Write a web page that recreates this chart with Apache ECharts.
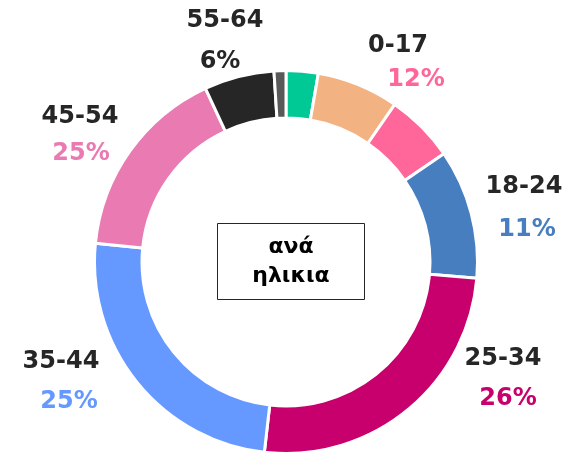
<!DOCTYPE html>
<html lang="el">
<head>
    <meta charset="UTF-8">
    <title>ανά ηλικια</title>
    <script src="https://cdn.jsdelivr.net/npm/echarts@6/dist/echarts.min.js"></script>
    <style>
        html, body { margin: 0; padding: 0; background: #fff; }
        #chart { width: 588px; height: 453px; }
    </style>
</head>
<body>
    <div id="chart"></div>
    <script>
        // slices, clockwise from the top
        var sliceNames  = ['0-17 (a)', '0-17 (b)', '0-17 (c)', '18-24', '25-34', '35-44', '45-54', '55-64', 'λοιπά'];
        var sliceValues = [2.7, 6.9, 5.8, 10.9, 25.4, 24.7, 16.5, 5.9, 1.0];
        var sliceColors = ['#00C996', '#F3B282', '#FF6699', '#467EC0', '#C8006E', '#6699FF', '#E97AB2', '#262626', '#595959'];

        // labels printed round the ring
        var groupNames  = ['0-17', '18-24', '25-34', '35-44', '45-54', '55-64'];
        var groupShares = ['12%', '11%', '26%', '25%', '25%', '6%'];
        var shareColors = ['#FF6699', '#467EC0', '#C8006E', '#6699FF', '#E97AB2', '#262626'];
        var namePos  = [[398, 46], [524, 187], [503, 359], [61, 362], [80, 117], [225, 21]];
        var sharePos = [[416, 80], [527, 230], [508, 399], [69, 402], [81, 154], [220, 62]];

        var chart = echarts.init(document.getElementById('chart'));

        var font = 'bold 24px "DejaVu Sans", Verdana, sans-serif';
        var texts = [];
        groupNames.forEach(function (g, i) {
            texts.push({
                type: 'text', x: namePos[i][0], y: namePos[i][1],
                style: { text: g, font: font, fill: '#262626', align: 'center', verticalAlign: 'middle' }
            });
            texts.push({
                type: 'text', x: sharePos[i][0], y: sharePos[i][1],
                style: { text: groupShares[i], font: font, fill: shareColors[i], align: 'center', verticalAlign: 'middle' }
            });
        });

        // box in the middle
        texts.push({
            type: 'rect',
            shape: { x: 217.5, y: 223.5, width: 147, height: 76 },
            style: { fill: '#fff', stroke: '#262626', lineWidth: 1 }
        });
        texts.push({
            type: 'text', x: 291, y: 262,
            style: {
                text: 'ανά\nηλικια', font: 'bold 22px "DejaVu Sans", Verdana, sans-serif',
                lineHeight: 29, fill: '#000', align: 'center', verticalAlign: 'middle'
            }
        });

        var option = {
            animation: false,
            series: [{
                type: 'pie',
                center: [286, 262],
                radius: [144, 191.5],
                startAngle: 90,
                clockwise: true,
                label: { show: false },
                labelLine: { show: false },
                silent: true,
                itemStyle: { borderColor: '#fff', borderWidth: 3 },
                data: sliceNames.map(function (n, i) {
                    return { name: n, value: sliceValues[i], itemStyle: { color: sliceColors[i] } };
                })
            }],
            graphic: texts
        };

        chart.setOption(option);
    </script>
</body>
</html>
